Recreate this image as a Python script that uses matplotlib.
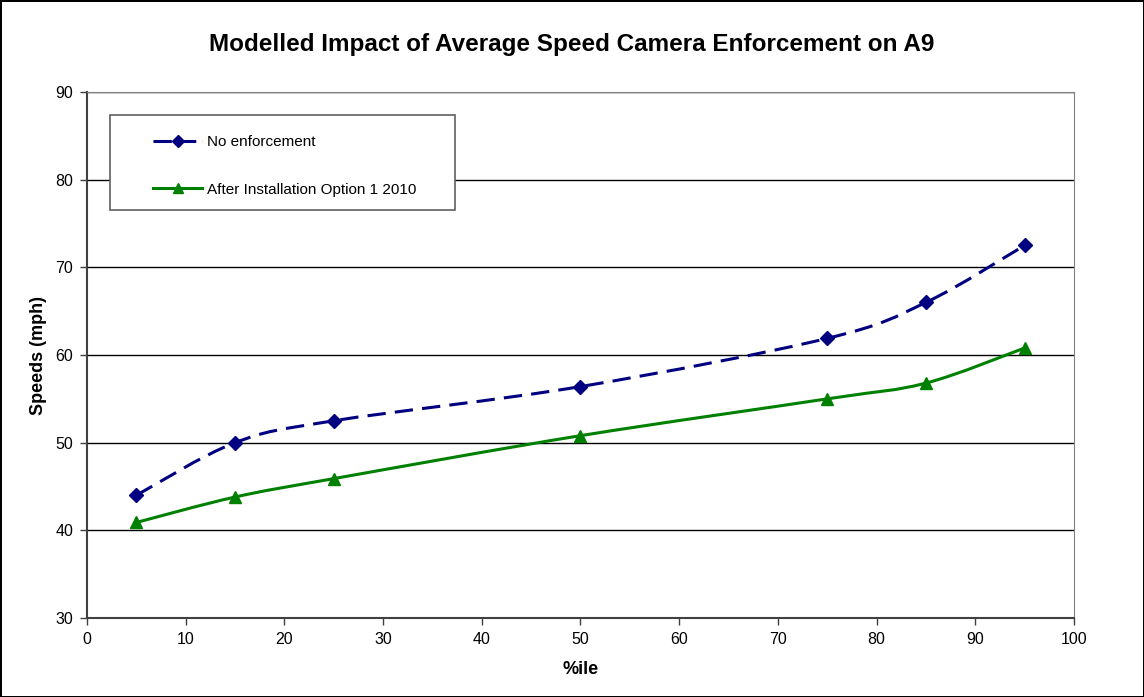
import numpy as np
import matplotlib.pyplot as plt
from matplotlib.path import Path
from matplotlib.patches import PathPatch, Rectangle
from matplotlib.lines import Line2D

plt.rcParams['font.family'] = ['Liberation Sans', 'DejaVu Sans']

# percentile points and modelled speeds (mph)
pctile = [5, 15, 25, 50, 75, 85, 95]
no_enf = [44.0, 50.0, 52.5, 56.4, 61.9, 66.0, 72.5]
after_opt1 = [40.9, 43.8, 45.9, 50.8, 55.0, 56.8, 60.8]

navy = '#000080'
green = '#008000'


def smooth_path(x, y):
    # Catmull-Rom style bezier through the points, like a spreadsheet "smoothed line"
    p = np.column_stack([x, y]).astype(float)
    n = len(p)
    verts = [p[0]]
    codes = [Path.MOVETO]
    for i in range(n - 1):
        p0 = p[i - 1] if i > 0 else p[i]
        p3 = p[i + 2] if i + 2 < n else p[i + 1]
        c1 = p[i] + (p[i + 1] - p0) / 6.0
        c2 = p[i + 1] - (p3 - p[i]) / 6.0
        verts += [c1, c2, p[i + 1]]
        codes += [Path.CURVE4] * 3
    return Path(verts, codes)


fig = plt.figure(figsize=(11.44, 6.97), dpi=100)
fig.patch.set_edgecolor('black')
fig.patch.set_linewidth(2)
ax = fig.add_axes([0.076, 0.1133, 0.8628, 0.7547])

ax.add_patch(PathPatch(smooth_path(pctile, no_enf), fill=False, edgecolor=navy,
                       lw=2.2, linestyle=(0, (6, 3)), zorder=3))
ax.plot(pctile, no_enf, linestyle='none', marker='D', ms=7, color=navy, zorder=4)
ax.add_patch(PathPatch(smooth_path(pctile, after_opt1), fill=False, edgecolor=green,
                       lw=2.2, zorder=3))
ax.plot(pctile, after_opt1, linestyle='none', marker='^', ms=8, color=green, zorder=4)

ax.set_xlim(0, 100)
ax.set_ylim(30, 90)
ax.set_xticks(range(0, 101, 10))
ax.set_yticks(range(30, 91, 10))
ax.yaxis.grid(True, color='black', lw=1)
ax.set_axisbelow(True)
ax.tick_params(labelsize=11.5, length=5, width=1, color='#404040', pad=5)
for s in ['top', 'right']:
    ax.spines[s].set_color('#808080')
for s in ['left', 'bottom']:
    ax.spines[s].set_color('#404040')
    ax.spines[s].set_linewidth(1.5)

ax.set_xlabel('%ile', fontsize=13, fontweight='bold', labelpad=10)
ax.set_ylabel('Speeds (mph)', fontsize=13, fontweight='bold', labelpad=6)
fig.suptitle('Modelled Impact of Average Speed Camera Enforcement on A9',
             fontsize=17.5, fontweight='bold', y=0.952)

# legend box
ax.add_patch(Rectangle((0.0233, 0.776), 0.3495, 0.18, transform=ax.transAxes,
                       facecolor='white', edgecolor='#606060', lw=1.2, zorder=5))
handles = [
    Line2D([], [], color=navy, lw=2.2, linestyle=(0, (6, 2)), marker='D', ms=6),
    Line2D([], [], color=green, lw=2.2, marker='^', ms=7),
]
leg = ax.legend(handles, ['No enforcement', 'After Installation Option 1 2010'],
                loc='upper left', bbox_to_anchor=(0.055, 0.9415), frameon=False,
                fontsize=11, handlelength=3.15, handletextpad=0.33,
                labelspacing=2.2, borderpad=0.3)
leg.set_zorder(6)

fig.savefig('out.png', dpi=100, edgecolor=fig.get_edgecolor())
